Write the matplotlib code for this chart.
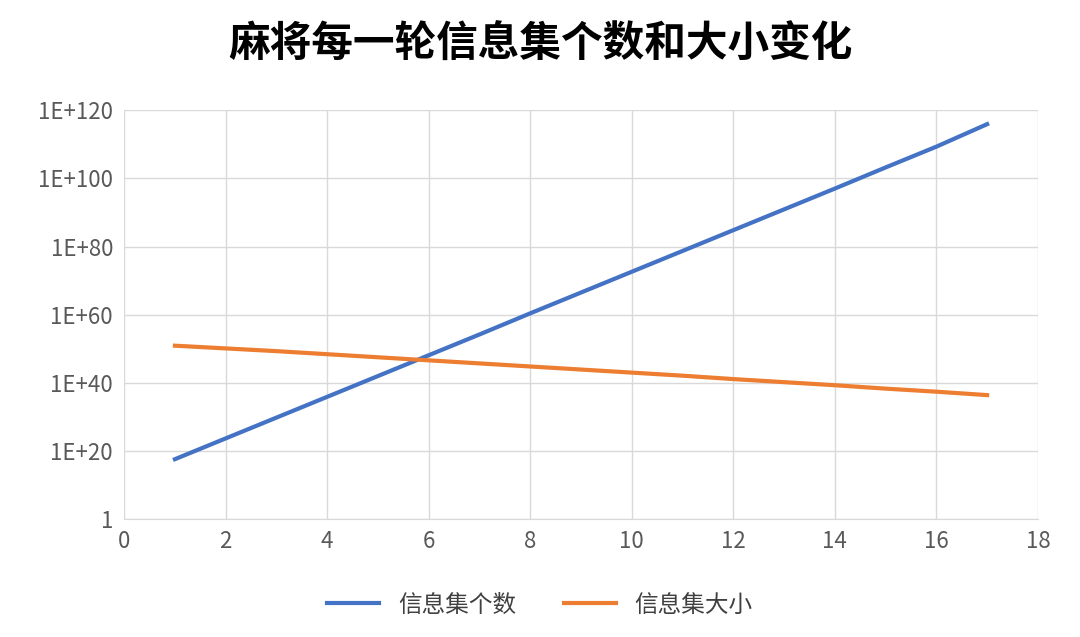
import math
import matplotlib.pyplot as plt
from matplotlib.ticker import FixedLocator, FuncFormatter

plt.rcParams['font.family'] = ['Noto Sans CJK SC', 'DejaVu Sans']

rounds = list(range(1, 18))
# log10 of values
count_log10 = [17.6, 23.7, 29.8, 35.9, 42.0, 48.1, 54.2, 60.4, 66.5,
               72.6, 78.7, 84.8, 90.9, 97.0, 103.2, 109.3, 115.9]
size_log10 = [50.9, 50.1, 49.3, 48.4, 47.5, 46.6, 45.7, 44.8, 43.9,
              43.0, 42.1, 41.1, 40.2, 39.3, 38.3, 37.4, 36.4]
count_vals = [10.0 ** v for v in count_log10]
size_vals = [10.0 ** v for v in size_log10]

fig = plt.figure(figsize=(10.8, 6.37), dpi=100)
ax = fig.add_axes([0.115, 0.185, 0.846, 0.642])
ax.plot(rounds, count_vals, color='#4472C4', lw=3, label='信息集个数')
ax.plot(rounds, size_vals, color='#ED7D31', lw=3, label='信息集大小')
ax.set_yscale('log')
ax.set_ylim(1, 1e120)
ax.set_xlim(0, 18)
ax.set_xticks(range(0, 19, 2))
ax.yaxis.set_major_locator(FixedLocator([10.0 ** k for k in range(0, 121, 20)]))
ax.yaxis.set_minor_locator(FixedLocator([]))
ax.yaxis.set_major_formatter(FuncFormatter(
    lambda v, p: '1' if v < 10 else '1E+%d' % round(math.log10(v))))
ax.grid(True, color='#D9D9D9', lw=1)
ax.set_axisbelow(True)
for s in ['top', 'right', 'left']:
    ax.spines[s].set_visible(False)
ax.spines['bottom'].set_color('#D9D9D9')
ax.tick_params(length=0, labelsize=16, colors='#595959', pad=8)
fig.text(0.5, 0.93, '麻将每一轮信息集个数和大小变化', ha='center', va='center',
         fontsize=30, fontweight='bold')
fig.legend(loc='center', bbox_to_anchor=(0.5, 0.05), ncol=2, frameon=False,
           fontsize=17, handlelength=2.2, columnspacing=2, labelcolor='#404040')
fig.savefig('out.png')
